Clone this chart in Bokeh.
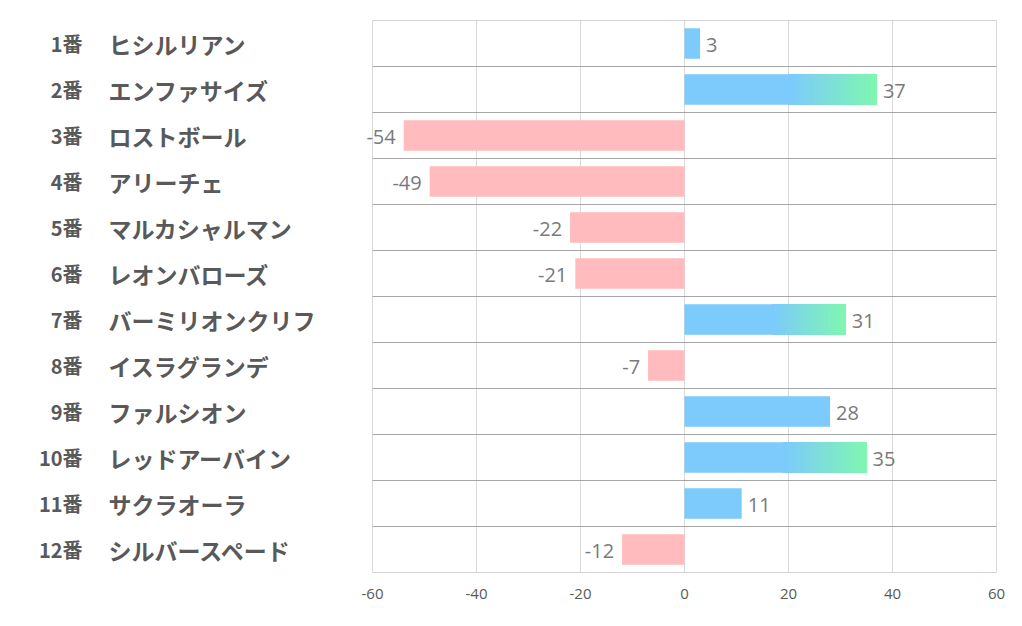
from bokeh.plotting import figure
from bokeh.models import Range1d, FixedTicker, ColumnDataSource
from bokeh.core.properties import value
from bokeh.embed import file_html
from bokeh.resources import INLINE

numbers = ["1番", "2番", "3番", "4番", "5番", "6番", "7番", "8番", "9番", "10番", "11番", "12番"]
names = ["ヒシルリアン", "エンファサイズ", "ロストボール", "アリーチェ", "マルカシャルマン", "レオンバローズ",
         "バーミリオンクリフ", "イスラグランデ", "ファルシオン", "レッドアーバイン", "サクラオーラ", "シルバースペード"]
values = [3, 37, -54, -49, -22, -21, 31, -7, 28, 35, 11, -12]
x_ticks = [-60, -40, -20, 0, 20, 40, 60]

BLUE = (125, 202, 253)
GREEN = (127, 247, 176)
PINK = "#ffbbbe"

PX = 5.2  # pixels per unit
FRAME_LEFT = 8
X0 = -60 - (372 - FRAME_LEFT) / PX
X1 = X0 + (1006 - FRAME_LEFT) / PX

p = figure(width=1014, height=612, output_backend="svg", toolbar_location=None,
           x_range=Range1d(X0, X1), y_range=Range1d(12.5, 0.5),
           min_border_left=FRAME_LEFT, min_border_right=8, min_border_top=20, min_border_bottom=40)
p.outline_line_color = None
p.background_fill_color = "white"
p.border_fill_color = "white"
p.yaxis.visible = False
p.xgrid.visible = False
p.ygrid.visible = False

ax = p.xaxis[0]
ax.ticker = FixedTicker(ticks=x_ticks)
ax.major_label_overrides = {t: str(t) for t in x_ticks}
ax.axis_line_color = None
ax.major_tick_line_color = None
ax.minor_tick_line_color = None
ax.major_label_text_font = "Open Sans"
ax.major_label_text_font_size = "15px"
ax.major_label_text_color = "#595959"
ax.major_label_standoff = 10

n = len(values)
rows = list(range(1, n + 1))

# vertical grid lines
p.segment(x0=x_ticks, x1=x_ticks, y0=[0.5] * len(x_ticks), y1=[n + 0.5] * len(x_ticks),
          line_color="#d9d9d9", line_width=1)
# row separator lines
bounds = [i + 0.5 for i in range(0, n + 1)]
p.segment(x0=[x_ticks[0]] * len(bounds), x1=[x_ticks[-1]] * len(bounds), y0=bounds, y1=bounds,
          line_color="#a6a6a6", line_width=1)

h = 0.33
hexc = lambda c: "#%02x%02x%02x" % c
for i, v in enumerate(values):
    y = rows[i]
    if v < 0:
        p.quad(left=v, right=0, bottom=y + h, top=y - h, fill_color=PINK, line_color=None)
    else:
        p.quad(left=0, right=v, bottom=y + h, top=y - h, fill_color=hexc(BLUE), line_color=None)
        if v >= 30:
            gs = 0.54 * v
            steps = 80
            lefts, cols = [], []
            for k in range(steps):
                a = gs + (v - gs) * k / steps
                t = (k + 0.5) / steps
                c = tuple(int(round(BLUE[j] + (GREEN[j] - BLUE[j]) * t)) for j in range(3))
                lefts.append(a)
                cols.append(hexc(c))
            p.quad(left=lefts, right=[v] * steps, bottom=[y + h] * steps, top=[y - h] * steps,
                   fill_color=cols, line_color=None)

# data labels
pi = [i for i, v in enumerate(values) if v >= 0]
ni = [i for i, v in enumerate(values) if v < 0]
pos = ColumnDataSource(dict(x=[values[i] for i in pi], y=[rows[i] for i in pi], t=[str(values[i]) for i in pi]))
neg = ColumnDataSource(dict(x=[values[i] for i in ni], y=[rows[i] for i in ni], t=[str(values[i]) for i in ni]))
p.text(x="x", y="y", text="t", source=pos, x_offset=6, y_offset=1, text_align="left", text_baseline="middle",
       text_font=value("Open Sans"), text_font_size="20px", text_color="#7a7a7a")
p.text(x="x", y="y", text="t", source=neg, x_offset=-8, y_offset=1, text_align="right", text_baseline="middle",
       text_font=value("Open Sans"), text_font_size="20px", text_color="#7a7a7a")

# category labels
num_x = X0 + (82 - FRAME_LEFT) / PX
name_x = X0 + (108 - FRAME_LEFT) / PX
p.text(x=[num_x] * n, y=rows, text=numbers, text_align="right", text_baseline="middle",
       text_font=value("Noto Sans CJK JP"), text_font_style="bold", text_font_size="20px",
       text_color="#595959")
p.text(x=[name_x] * n, y=rows, text=names, text_align="left", text_baseline="middle",
       text_font=value("Noto Sans CJK JP"), text_font_style="bold", text_font_size="23px",
       text_color="#595959")

open("out.html", "w").write(file_html(p, INLINE))
